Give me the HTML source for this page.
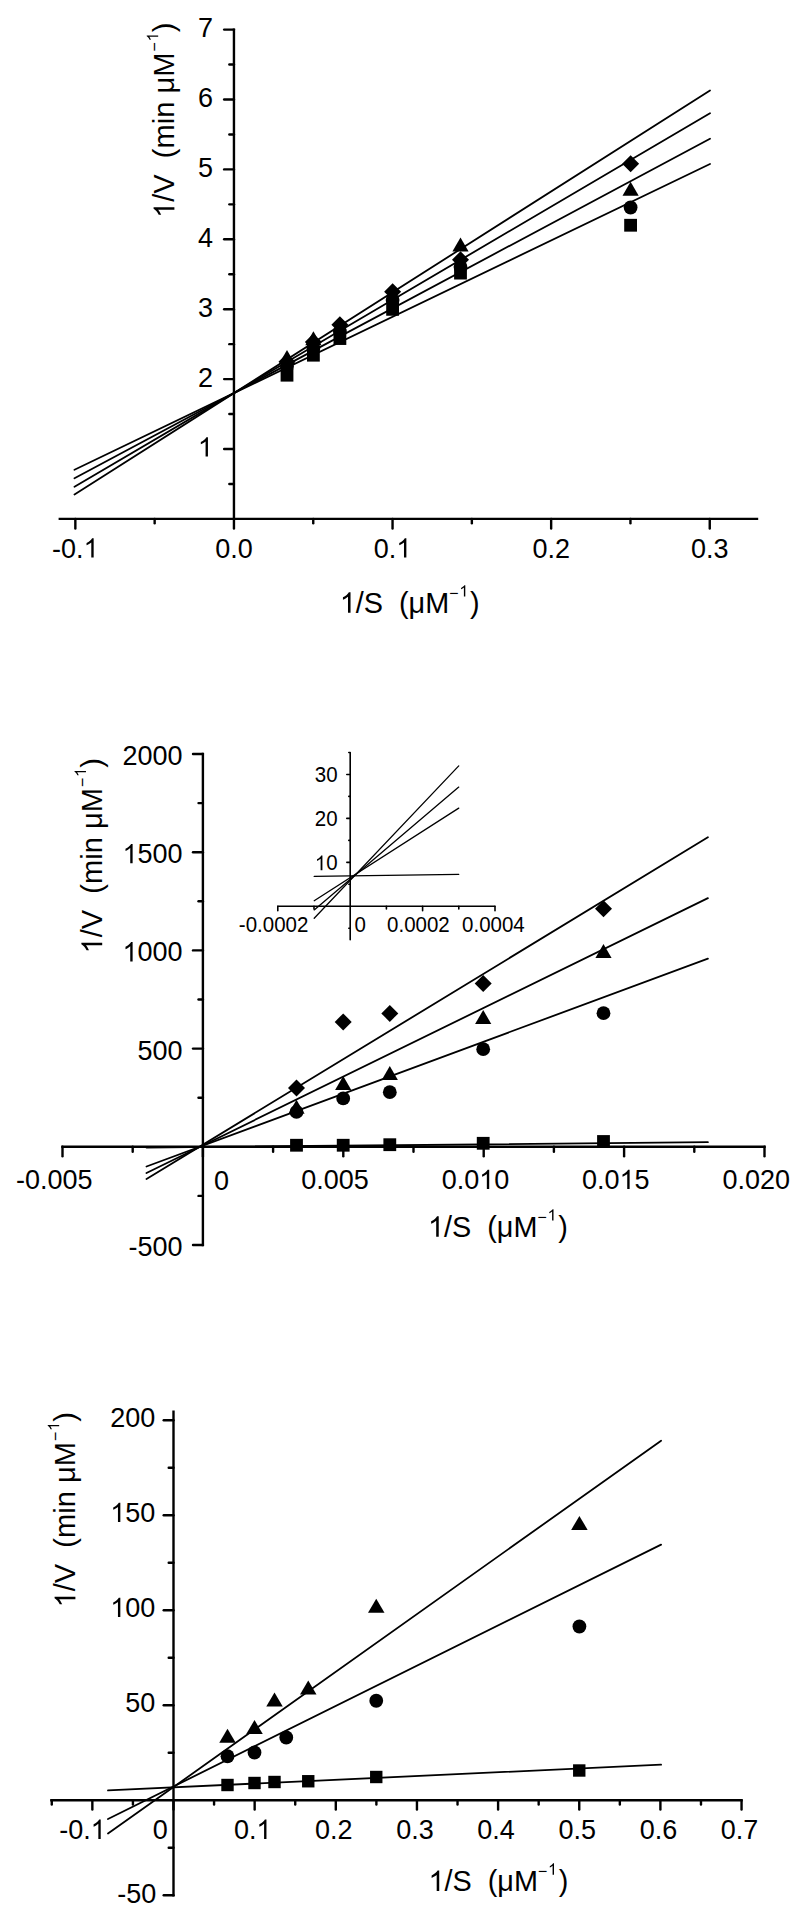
<!DOCTYPE html>
<html><head><meta charset="utf-8"><title>Lineweaver-Burk plots</title>
<style>html,body{margin:0;padding:0;background:#fff;}svg{display:block;}.o{fill-opacity:0;}</style>
</head><body>
<svg width="800" height="1915" viewBox="0 0 800 1915" font-family='"Liberation Sans", sans-serif' fill="#000">
<defs><path id="g1" d="M763 0L583 0L583 1102C540 1063 483 1023 413 983C343 944 280 914 223 894L223 1061C323 1106 411 1161 486 1225C561 1290 614 1352 645 1409L763 1409Z"/></defs>
<rect width="800" height="1915" fill="#fff"/>
<line x1="233.95" y1="29.60" x2="233.95" y2="518.90" stroke="#000" stroke-width="2.4" stroke-linecap="square"/>
<line x1="224.15" y1="449.00" x2="233.95" y2="449.00" stroke="#000" stroke-width="2.4" stroke-linecap="round"/>
<line x1="224.15" y1="379.10" x2="233.95" y2="379.10" stroke="#000" stroke-width="2.4" stroke-linecap="round"/>
<line x1="224.15" y1="309.20" x2="233.95" y2="309.20" stroke="#000" stroke-width="2.4" stroke-linecap="round"/>
<line x1="224.15" y1="239.30" x2="233.95" y2="239.30" stroke="#000" stroke-width="2.4" stroke-linecap="round"/>
<line x1="224.15" y1="169.40" x2="233.95" y2="169.40" stroke="#000" stroke-width="2.4" stroke-linecap="round"/>
<line x1="224.15" y1="99.50" x2="233.95" y2="99.50" stroke="#000" stroke-width="2.4" stroke-linecap="round"/>
<line x1="224.15" y1="29.60" x2="233.95" y2="29.60" stroke="#000" stroke-width="2.4" stroke-linecap="round"/>
<line x1="229.35" y1="483.95" x2="233.95" y2="483.95" stroke="#000" stroke-width="2.4" stroke-linecap="round"/>
<line x1="229.35" y1="414.05" x2="233.95" y2="414.05" stroke="#000" stroke-width="2.4" stroke-linecap="round"/>
<line x1="229.35" y1="344.15" x2="233.95" y2="344.15" stroke="#000" stroke-width="2.4" stroke-linecap="round"/>
<line x1="229.35" y1="274.25" x2="233.95" y2="274.25" stroke="#000" stroke-width="2.4" stroke-linecap="round"/>
<line x1="229.35" y1="204.35" x2="233.95" y2="204.35" stroke="#000" stroke-width="2.4" stroke-linecap="round"/>
<line x1="229.35" y1="134.45" x2="233.95" y2="134.45" stroke="#000" stroke-width="2.4" stroke-linecap="round"/>
<line x1="229.35" y1="64.55" x2="233.95" y2="64.55" stroke="#000" stroke-width="2.4" stroke-linecap="round"/>
<line x1="59.80" y1="518.90" x2="757.00" y2="518.90" stroke="#000" stroke-width="2.4" stroke-linecap="square"/>
<line x1="75.35" y1="518.90" x2="75.35" y2="528.50" stroke="#000" stroke-width="2.4" stroke-linecap="round"/>
<line x1="233.95" y1="518.90" x2="233.95" y2="528.50" stroke="#000" stroke-width="2.4" stroke-linecap="round"/>
<line x1="392.55" y1="518.90" x2="392.55" y2="528.50" stroke="#000" stroke-width="2.4" stroke-linecap="round"/>
<line x1="551.15" y1="518.90" x2="551.15" y2="528.50" stroke="#000" stroke-width="2.4" stroke-linecap="round"/>
<line x1="709.75" y1="518.90" x2="709.75" y2="528.50" stroke="#000" stroke-width="2.4" stroke-linecap="round"/>
<line x1="154.65" y1="518.90" x2="154.65" y2="523.30" stroke="#000" stroke-width="2.4" stroke-linecap="round"/>
<line x1="313.25" y1="518.90" x2="313.25" y2="523.30" stroke="#000" stroke-width="2.4" stroke-linecap="round"/>
<line x1="471.85" y1="518.90" x2="471.85" y2="523.30" stroke="#000" stroke-width="2.4" stroke-linecap="round"/>
<line x1="630.45" y1="518.90" x2="630.45" y2="523.30" stroke="#000" stroke-width="2.4" stroke-linecap="round"/>
<g transform="translate(212.90,456.50) scale(1,1.04)"><text id="tx0" x="0" y="0" font-size="27" text-anchor="end"><tspan class="o">1</tspan></text><use href="#g1" transform="translate(-15.01,0.00) scale(0.013184,-0.013184)"/></g>
<g transform="translate(212.90,386.60) scale(1,1.04)"><text id="tx1" x="0" y="0" font-size="27" text-anchor="end">2</text></g>
<g transform="translate(212.90,316.70) scale(1,1.04)"><text id="tx2" x="0" y="0" font-size="27" text-anchor="end">3</text></g>
<g transform="translate(212.90,246.80) scale(1,1.04)"><text id="tx3" x="0" y="0" font-size="27" text-anchor="end">4</text></g>
<g transform="translate(212.90,176.90) scale(1,1.04)"><text id="tx4" x="0" y="0" font-size="27" text-anchor="end">5</text></g>
<g transform="translate(212.90,107.00) scale(1,1.04)"><text id="tx5" x="0" y="0" font-size="27" text-anchor="end">6</text></g>
<g transform="translate(212.90,37.10) scale(1,1.04)"><text id="tx6" x="0" y="0" font-size="27" text-anchor="end">7</text></g>
<g transform="translate(75.35,557.60) scale(1,1.04)"><text id="tx7" x="0" y="0" font-size="27" text-anchor="middle">-0.<tspan class="o">1</tspan></text><use href="#g1" transform="translate(8.25,0.00) scale(0.013184,-0.013184)"/></g>
<g transform="translate(233.95,557.60) scale(1,1.04)"><text id="tx8" x="0" y="0" font-size="27" text-anchor="middle">0.0</text></g>
<g transform="translate(392.55,557.60) scale(1,1.04)"><text id="tx9" x="0" y="0" font-size="27" text-anchor="middle">0.<tspan class="o">1</tspan></text><use href="#g1" transform="translate(3.75,0.00) scale(0.013184,-0.013184)"/></g>
<g transform="translate(551.15,557.60) scale(1,1.04)"><text id="tx10" x="0" y="0" font-size="27" text-anchor="middle">0.2</text></g>
<g transform="translate(709.75,557.60) scale(1,1.04)"><text id="tx11" x="0" y="0" font-size="27" text-anchor="middle">0.3</text></g>
<g transform="translate(339.80,612.80) scale(1,1.04)"><text id="tx12" x="0" y="0" font-size="28.8" text-anchor="start"><tspan class="o">1</tspan>/S  (μM<tspan font-size="16" dx="0.0" dy="-13.70">−</tspan><tspan font-size="16" dx="0.8" dy="-1.9"><tspan class="o">1</tspan></tspan><tspan dx="1.8" dy="15.6">)</tspan></text><use href="#g1" transform="translate(0.00,0.00) scale(0.014063,-0.014063)"/><use href="#g1" transform="translate(119.54,-15.60) scale(0.007812,-0.007812)"/></g>
<g transform="translate(174.40,218.00) rotate(-90) scale(1,1.04)"><text id="tx13" x="0" y="0" font-size="29.1" text-anchor="start"><tspan class="o">1</tspan>/V  (min μM<tspan font-size="16" dx="1.0" dy="-13.70">−</tspan><tspan font-size="16" dx="0.8" dy="-1.9"><tspan class="o">1</tspan></tspan><tspan dx="0.2" dy="15.6">)</tspan></text><use href="#g1" transform="translate(0.00,0.00) scale(0.014209,-0.014209)"/><use href="#g1" transform="translate(176.60,-15.60) scale(0.007812,-0.007812)"/></g>
<line x1="74.50" y1="494.45" x2="710.00" y2="90.50" stroke="#000" stroke-width="1.8" stroke-linecap="round"/>
<line x1="74.50" y1="486.82" x2="710.00" y2="113.25" stroke="#000" stroke-width="1.8" stroke-linecap="round"/>
<line x1="74.50" y1="478.27" x2="710.00" y2="138.75" stroke="#000" stroke-width="1.8" stroke-linecap="round"/>
<line x1="74.50" y1="469.80" x2="710.00" y2="164.00" stroke="#000" stroke-width="1.8" stroke-linecap="round"/>
<rect x="280.60" y="368.80" width="12.8" height="12.8"/>
<rect x="307.00" y="348.80" width="12.8" height="12.8"/>
<rect x="333.50" y="332.15" width="12.8" height="12.8"/>
<rect x="386.20" y="302.95" width="12.8" height="12.8"/>
<rect x="454.10" y="266.70" width="12.8" height="12.8"/>
<rect x="624.20" y="218.85" width="12.8" height="12.8"/>
<circle cx="287.00" cy="366.50" r="6.9"/>
<circle cx="313.40" cy="348.00" r="6.9"/>
<circle cx="339.90" cy="331.50" r="6.9"/>
<circle cx="392.60" cy="300.00" r="6.9"/>
<circle cx="460.50" cy="267.00" r="6.9"/>
<circle cx="630.60" cy="207.50" r="6.9"/>
<polygon points="287.00,350.10 295.10,364.10 278.90,364.10"/>
<polygon points="313.40,331.25 321.50,345.25 305.30,345.25"/>
<polygon points="460.50,237.50 468.60,251.50 452.40,251.50"/>
<polygon points="630.60,181.75 638.70,195.75 622.50,195.75"/>
<polygon points="287.00,353.25 295.50,361.75 287.00,370.25 278.50,361.75"/>
<polygon points="313.40,333.60 321.90,342.10 313.40,350.60 304.90,342.10"/>
<polygon points="339.90,316.20 348.40,324.70 339.90,333.20 331.40,324.70"/>
<polygon points="392.60,283.20 401.10,291.70 392.60,300.20 384.10,291.70"/>
<polygon points="460.50,251.25 469.00,259.75 460.50,268.25 452.00,259.75"/>
<polygon points="630.60,155.25 639.10,163.75 630.60,172.25 622.10,163.75"/>
<line x1="202.90" y1="754.00" x2="202.90" y2="1245.00" stroke="#000" stroke-width="2.4" stroke-linecap="square"/>
<line x1="193.00" y1="754.00" x2="202.90" y2="754.00" stroke="#000" stroke-width="2.4" stroke-linecap="round"/>
<line x1="193.00" y1="852.20" x2="202.90" y2="852.20" stroke="#000" stroke-width="2.4" stroke-linecap="round"/>
<line x1="193.00" y1="950.40" x2="202.90" y2="950.40" stroke="#000" stroke-width="2.4" stroke-linecap="round"/>
<line x1="193.00" y1="1048.60" x2="202.90" y2="1048.60" stroke="#000" stroke-width="2.4" stroke-linecap="round"/>
<line x1="193.00" y1="1245.00" x2="202.90" y2="1245.00" stroke="#000" stroke-width="2.4" stroke-linecap="round"/>
<line x1="198.50" y1="803.10" x2="202.90" y2="803.10" stroke="#000" stroke-width="2.4" stroke-linecap="round"/>
<line x1="198.50" y1="901.30" x2="202.90" y2="901.30" stroke="#000" stroke-width="2.4" stroke-linecap="round"/>
<line x1="198.50" y1="999.50" x2="202.90" y2="999.50" stroke="#000" stroke-width="2.4" stroke-linecap="round"/>
<line x1="198.50" y1="1097.70" x2="202.90" y2="1097.70" stroke="#000" stroke-width="2.4" stroke-linecap="round"/>
<line x1="198.50" y1="1195.90" x2="202.90" y2="1195.90" stroke="#000" stroke-width="2.4" stroke-linecap="round"/>
<line x1="62.50" y1="1146.80" x2="764.50" y2="1146.80" stroke="#000" stroke-width="2.4" stroke-linecap="square"/>
<line x1="62.50" y1="1146.80" x2="62.50" y2="1156.30" stroke="#000" stroke-width="2.4" stroke-linecap="round"/>
<line x1="202.90" y1="1146.80" x2="202.90" y2="1156.30" stroke="#000" stroke-width="2.4" stroke-linecap="round"/>
<line x1="343.30" y1="1146.80" x2="343.30" y2="1156.30" stroke="#000" stroke-width="2.4" stroke-linecap="round"/>
<line x1="483.70" y1="1146.80" x2="483.70" y2="1156.30" stroke="#000" stroke-width="2.4" stroke-linecap="round"/>
<line x1="624.10" y1="1146.80" x2="624.10" y2="1156.30" stroke="#000" stroke-width="2.4" stroke-linecap="round"/>
<line x1="764.50" y1="1146.80" x2="764.50" y2="1156.30" stroke="#000" stroke-width="2.4" stroke-linecap="round"/>
<line x1="132.70" y1="1146.80" x2="132.70" y2="1151.80" stroke="#000" stroke-width="2.4" stroke-linecap="round"/>
<line x1="273.10" y1="1146.80" x2="273.10" y2="1151.80" stroke="#000" stroke-width="2.4" stroke-linecap="round"/>
<line x1="413.50" y1="1146.80" x2="413.50" y2="1151.80" stroke="#000" stroke-width="2.4" stroke-linecap="round"/>
<line x1="553.90" y1="1146.80" x2="553.90" y2="1151.80" stroke="#000" stroke-width="2.4" stroke-linecap="round"/>
<line x1="694.30" y1="1146.80" x2="694.30" y2="1151.80" stroke="#000" stroke-width="2.4" stroke-linecap="round"/>
<g transform="translate(182.60,765.00) scale(1,1.04)"><text id="tx14" x="0" y="0" font-size="27" text-anchor="end">2000</text></g>
<g transform="translate(182.60,863.20) scale(1,1.04)"><text id="tx15" x="0" y="0" font-size="27" text-anchor="end"><tspan class="o">1</tspan>500</text><use href="#g1" transform="translate(-60.04,0.00) scale(0.013184,-0.013184)"/></g>
<g transform="translate(182.60,961.40) scale(1,1.04)"><text id="tx16" x="0" y="0" font-size="27" text-anchor="end"><tspan class="o">1</tspan>000</text><use href="#g1" transform="translate(-60.04,0.00) scale(0.013184,-0.013184)"/></g>
<g transform="translate(182.60,1059.60) scale(1,1.04)"><text id="tx17" x="0" y="0" font-size="27" text-anchor="end">500</text></g>
<g transform="translate(182.60,1256.00) scale(1,1.04)"><text id="tx18" x="0" y="0" font-size="27" text-anchor="end">-500</text></g>
<g transform="translate(54.20,1189.00) scale(1,1.04)"><text id="tx19" x="0" y="0" font-size="27" text-anchor="middle">-0.005</text></g>
<g transform="translate(335.00,1189.00) scale(1,1.04)"><text id="tx20" x="0" y="0" font-size="27" text-anchor="middle">0.005</text></g>
<g transform="translate(475.40,1189.00) scale(1,1.04)"><text id="tx21" x="0" y="0" font-size="27" text-anchor="middle">0.0<tspan class="o">1</tspan>0</text><use href="#g1" transform="translate(3.75,0.00) scale(0.013184,-0.013184)"/></g>
<g transform="translate(615.80,1189.00) scale(1,1.04)"><text id="tx22" x="0" y="0" font-size="27" text-anchor="middle">0.0<tspan class="o">1</tspan>5</text><use href="#g1" transform="translate(3.75,0.00) scale(0.013184,-0.013184)"/></g>
<g transform="translate(756.20,1189.00) scale(1,1.04)"><text id="tx23" x="0" y="0" font-size="27" text-anchor="middle">0.020</text></g>
<g transform="translate(221.60,1189.50) scale(1,1.04)"><text id="tx24" x="0" y="0" font-size="27" text-anchor="middle">0</text></g>
<g transform="translate(428.00,1236.80) scale(1,1.04)"><text id="tx25" x="0" y="0" font-size="28.8" text-anchor="start"><tspan class="o">1</tspan>/S  (μM<tspan font-size="16" dx="0.0" dy="-13.70">−</tspan><tspan font-size="16" dx="0.8" dy="-1.9"><tspan class="o">1</tspan></tspan><tspan dx="1.8" dy="15.6">)</tspan></text><use href="#g1" transform="translate(0.00,0.00) scale(0.014063,-0.014063)"/><use href="#g1" transform="translate(119.54,-15.60) scale(0.007812,-0.007812)"/></g>
<g transform="translate(102.20,953.50) rotate(-90) scale(1,1.04)"><text id="tx26" x="0" y="0" font-size="29.1" text-anchor="start"><tspan class="o">1</tspan>/V  (min μM<tspan font-size="16" dx="1.0" dy="-13.70">−</tspan><tspan font-size="16" dx="0.8" dy="-1.9"><tspan class="o">1</tspan></tspan><tspan dx="0.2" dy="15.6">)</tspan></text><use href="#g1" transform="translate(0.00,0.00) scale(0.014209,-0.014209)"/><use href="#g1" transform="translate(176.60,-15.60) scale(0.007812,-0.007812)"/></g>
<line x1="146.50" y1="1179.00" x2="707.90" y2="837.20" stroke="#000" stroke-width="1.8" stroke-linecap="round"/>
<line x1="146.50" y1="1173.00" x2="707.90" y2="898.10" stroke="#000" stroke-width="1.8" stroke-linecap="round"/>
<line x1="146.50" y1="1166.50" x2="707.90" y2="958.65" stroke="#000" stroke-width="1.8" stroke-linecap="round"/>
<line x1="146.50" y1="1147.50" x2="707.90" y2="1142.20" stroke="#000" stroke-width="1.8" stroke-linecap="round"/>
<polygon points="296.50,1079.40 305.00,1087.90 296.50,1096.40 288.00,1087.90"/>
<polygon points="343.20,1013.40 351.70,1021.90 343.20,1030.40 334.70,1021.90"/>
<polygon points="389.80,1004.90 398.30,1013.40 389.80,1021.90 381.30,1013.40"/>
<polygon points="483.20,975.00 491.70,983.50 483.20,992.00 474.70,983.50"/>
<polygon points="603.50,900.30 612.00,908.80 603.50,917.30 595.00,908.80"/>
<polygon points="296.50,1099.70 304.60,1113.70 288.40,1113.70"/>
<polygon points="343.20,1075.90 351.30,1089.90 335.10,1089.90"/>
<polygon points="389.80,1066.00 397.90,1080.00 381.70,1080.00"/>
<polygon points="483.20,1010.00 491.30,1024.00 475.10,1024.00"/>
<polygon points="603.50,944.10 611.60,958.10 595.40,958.10"/>
<circle cx="296.50" cy="1111.90" r="6.9"/>
<circle cx="343.20" cy="1098.40" r="6.9"/>
<circle cx="389.80" cy="1092.20" r="6.9"/>
<circle cx="483.20" cy="1049.20" r="6.9"/>
<circle cx="603.50" cy="1013.20" r="6.9"/>
<rect x="290.10" y="1138.85" width="12.8" height="12.8"/>
<rect x="336.80" y="1138.85" width="12.8" height="12.8"/>
<rect x="383.40" y="1138.30" width="12.8" height="12.8"/>
<rect x="476.80" y="1136.90" width="12.8" height="12.8"/>
<rect x="597.10" y="1135.10" width="12.8" height="12.8"/>
<line x1="350.20" y1="753.10" x2="350.20" y2="939.70" stroke="#000" stroke-width="1.6" stroke-linecap="round"/>
<line x1="346.80" y1="774.45" x2="350.20" y2="774.45" stroke="#000" stroke-width="1.6" stroke-linecap="round"/>
<line x1="346.80" y1="818.40" x2="350.20" y2="818.40" stroke="#000" stroke-width="1.6" stroke-linecap="round"/>
<line x1="346.80" y1="862.35" x2="350.20" y2="862.35" stroke="#000" stroke-width="1.6" stroke-linecap="round"/>
<line x1="348.80" y1="752.47" x2="350.20" y2="752.47" stroke="#000" stroke-width="1.6" stroke-linecap="round"/>
<line x1="348.80" y1="796.42" x2="350.20" y2="796.42" stroke="#000" stroke-width="1.6" stroke-linecap="round"/>
<line x1="348.80" y1="840.38" x2="350.20" y2="840.38" stroke="#000" stroke-width="1.6" stroke-linecap="round"/>
<line x1="348.80" y1="884.32" x2="350.20" y2="884.32" stroke="#000" stroke-width="1.6" stroke-linecap="round"/>
<line x1="348.80" y1="928.27" x2="350.20" y2="928.27" stroke="#000" stroke-width="1.6" stroke-linecap="round"/>
<line x1="277.80" y1="906.30" x2="494.75" y2="906.30" stroke="#000" stroke-width="1.6" stroke-linecap="round"/>
<line x1="277.80" y1="906.30" x2="277.80" y2="910.70" stroke="#000" stroke-width="1.6" stroke-linecap="round"/>
<line x1="422.60" y1="906.30" x2="422.60" y2="910.70" stroke="#000" stroke-width="1.6" stroke-linecap="round"/>
<line x1="495.00" y1="906.30" x2="495.00" y2="910.70" stroke="#000" stroke-width="1.6" stroke-linecap="round"/>
<line x1="314.00" y1="906.30" x2="314.00" y2="908.90" stroke="#000" stroke-width="1.6" stroke-linecap="round"/>
<line x1="386.40" y1="906.30" x2="386.40" y2="908.90" stroke="#000" stroke-width="1.6" stroke-linecap="round"/>
<line x1="458.80" y1="906.30" x2="458.80" y2="908.90" stroke="#000" stroke-width="1.6" stroke-linecap="round"/>
<g transform="translate(337.60,782.35) scale(1,1.04)"><text id="tx27" x="0" y="0" font-size="20.5" text-anchor="end">30</text></g>
<g transform="translate(337.60,826.30) scale(1,1.04)"><text id="tx28" x="0" y="0" font-size="20.5" text-anchor="end">20</text></g>
<g transform="translate(337.60,870.25) scale(1,1.04)"><text id="tx29" x="0" y="0" font-size="20.5" text-anchor="end"><tspan class="o">1</tspan>0</text><use href="#g1" transform="translate(-22.82,0.00) scale(0.010010,-0.010010)"/></g>
<g transform="translate(273.60,932.40) scale(1,1.04)"><text id="tx30" x="0" y="0" font-size="20.5" text-anchor="middle">-0.0002</text></g>
<g transform="translate(360.10,932.40) scale(1,1.04)"><text id="tx31" x="0" y="0" font-size="20.5" text-anchor="middle">0</text></g>
<g transform="translate(418.40,932.40) scale(1,1.04)"><text id="tx32" x="0" y="0" font-size="20.5" text-anchor="middle">0.0002</text></g>
<g transform="translate(493.40,932.40) scale(1,1.04)"><text id="tx33" x="0" y="0" font-size="20.5" text-anchor="middle">0.0004</text></g>
<line x1="314.20" y1="918.20" x2="458.75" y2="765.90" stroke="#000" stroke-width="1.3" stroke-linecap="round"/>
<line x1="314.20" y1="909.90" x2="458.75" y2="787.10" stroke="#000" stroke-width="1.3" stroke-linecap="round"/>
<line x1="314.20" y1="900.70" x2="458.75" y2="808.10" stroke="#000" stroke-width="1.3" stroke-linecap="round"/>
<line x1="314.20" y1="876.40" x2="458.75" y2="874.30" stroke="#000" stroke-width="1.3" stroke-linecap="round"/>
<line x1="173.50" y1="1411.80" x2="173.50" y2="1895.20" stroke="#000" stroke-width="2.4" stroke-linecap="square"/>
<line x1="163.70" y1="1420.20" x2="173.50" y2="1420.20" stroke="#000" stroke-width="2.4" stroke-linecap="round"/>
<line x1="163.70" y1="1515.20" x2="173.50" y2="1515.20" stroke="#000" stroke-width="2.4" stroke-linecap="round"/>
<line x1="163.70" y1="1610.20" x2="173.50" y2="1610.20" stroke="#000" stroke-width="2.4" stroke-linecap="round"/>
<line x1="163.70" y1="1705.20" x2="173.50" y2="1705.20" stroke="#000" stroke-width="2.4" stroke-linecap="round"/>
<line x1="163.70" y1="1895.20" x2="173.50" y2="1895.20" stroke="#000" stroke-width="2.4" stroke-linecap="round"/>
<line x1="168.70" y1="1467.70" x2="173.50" y2="1467.70" stroke="#000" stroke-width="2.4" stroke-linecap="round"/>
<line x1="168.70" y1="1562.70" x2="173.50" y2="1562.70" stroke="#000" stroke-width="2.4" stroke-linecap="round"/>
<line x1="168.70" y1="1657.70" x2="173.50" y2="1657.70" stroke="#000" stroke-width="2.4" stroke-linecap="round"/>
<line x1="168.70" y1="1752.70" x2="173.50" y2="1752.70" stroke="#000" stroke-width="2.4" stroke-linecap="round"/>
<line x1="168.70" y1="1847.70" x2="173.50" y2="1847.70" stroke="#000" stroke-width="2.4" stroke-linecap="round"/>
<line x1="51.40" y1="1800.20" x2="741.50" y2="1800.20" stroke="#000" stroke-width="2.4" stroke-linecap="square"/>
<line x1="92.35" y1="1800.20" x2="92.35" y2="1809.50" stroke="#000" stroke-width="2.4" stroke-linecap="round"/>
<line x1="173.50" y1="1800.20" x2="173.50" y2="1809.50" stroke="#000" stroke-width="2.4" stroke-linecap="round"/>
<line x1="254.65" y1="1800.20" x2="254.65" y2="1809.50" stroke="#000" stroke-width="2.4" stroke-linecap="round"/>
<line x1="335.80" y1="1800.20" x2="335.80" y2="1809.50" stroke="#000" stroke-width="2.4" stroke-linecap="round"/>
<line x1="416.95" y1="1800.20" x2="416.95" y2="1809.50" stroke="#000" stroke-width="2.4" stroke-linecap="round"/>
<line x1="498.10" y1="1800.20" x2="498.10" y2="1809.50" stroke="#000" stroke-width="2.4" stroke-linecap="round"/>
<line x1="579.25" y1="1800.20" x2="579.25" y2="1809.50" stroke="#000" stroke-width="2.4" stroke-linecap="round"/>
<line x1="660.40" y1="1800.20" x2="660.40" y2="1809.50" stroke="#000" stroke-width="2.4" stroke-linecap="round"/>
<line x1="741.55" y1="1800.20" x2="741.55" y2="1809.50" stroke="#000" stroke-width="2.4" stroke-linecap="round"/>
<line x1="51.77" y1="1800.20" x2="51.77" y2="1804.50" stroke="#000" stroke-width="2.4" stroke-linecap="round"/>
<line x1="132.93" y1="1800.20" x2="132.93" y2="1804.50" stroke="#000" stroke-width="2.4" stroke-linecap="round"/>
<line x1="214.07" y1="1800.20" x2="214.07" y2="1804.50" stroke="#000" stroke-width="2.4" stroke-linecap="round"/>
<line x1="295.23" y1="1800.20" x2="295.23" y2="1804.50" stroke="#000" stroke-width="2.4" stroke-linecap="round"/>
<line x1="376.38" y1="1800.20" x2="376.38" y2="1804.50" stroke="#000" stroke-width="2.4" stroke-linecap="round"/>
<line x1="457.53" y1="1800.20" x2="457.53" y2="1804.50" stroke="#000" stroke-width="2.4" stroke-linecap="round"/>
<line x1="538.67" y1="1800.20" x2="538.67" y2="1804.50" stroke="#000" stroke-width="2.4" stroke-linecap="round"/>
<line x1="619.83" y1="1800.20" x2="619.83" y2="1804.50" stroke="#000" stroke-width="2.4" stroke-linecap="round"/>
<line x1="700.98" y1="1800.20" x2="700.98" y2="1804.50" stroke="#000" stroke-width="2.4" stroke-linecap="round"/>
<g transform="translate(155.30,1427.10) scale(1,1.04)"><text id="tx34" x="0" y="0" font-size="27" text-anchor="end">200</text></g>
<g transform="translate(155.30,1522.10) scale(1,1.04)"><text id="tx35" x="0" y="0" font-size="27" text-anchor="end"><tspan class="o">1</tspan>50</text><use href="#g1" transform="translate(-45.03,0.00) scale(0.013184,-0.013184)"/></g>
<g transform="translate(155.30,1617.10) scale(1,1.04)"><text id="tx36" x="0" y="0" font-size="27" text-anchor="end"><tspan class="o">1</tspan>00</text><use href="#g1" transform="translate(-45.03,0.00) scale(0.013184,-0.013184)"/></g>
<g transform="translate(155.30,1712.10) scale(1,1.04)"><text id="tx37" x="0" y="0" font-size="27" text-anchor="end">50</text></g>
<g transform="translate(156.20,1902.60) scale(1,1.04)"><text id="tx38" x="0" y="0" font-size="27" text-anchor="end">-50</text></g>
<g transform="translate(252.65,1838.90) scale(1,1.04)"><text id="tx39" x="0" y="0" font-size="27" text-anchor="middle">0.<tspan class="o">1</tspan></text><use href="#g1" transform="translate(3.75,0.00) scale(0.013184,-0.013184)"/></g>
<g transform="translate(333.80,1838.90) scale(1,1.04)"><text id="tx40" x="0" y="0" font-size="27" text-anchor="middle">0.2</text></g>
<g transform="translate(414.95,1838.90) scale(1,1.04)"><text id="tx41" x="0" y="0" font-size="27" text-anchor="middle">0.3</text></g>
<g transform="translate(496.10,1838.90) scale(1,1.04)"><text id="tx42" x="0" y="0" font-size="27" text-anchor="middle">0.4</text></g>
<g transform="translate(577.25,1838.90) scale(1,1.04)"><text id="tx43" x="0" y="0" font-size="27" text-anchor="middle">0.5</text></g>
<g transform="translate(658.40,1838.90) scale(1,1.04)"><text id="tx44" x="0" y="0" font-size="27" text-anchor="middle">0.6</text></g>
<g transform="translate(739.55,1838.90) scale(1,1.04)"><text id="tx45" x="0" y="0" font-size="27" text-anchor="middle">0.7</text></g>
<g transform="translate(82.40,1838.90) scale(1,1.04)"><text id="tx46" x="0" y="0" font-size="27" text-anchor="middle">-0.<tspan class="o">1</tspan></text><use href="#g1" transform="translate(8.25,0.00) scale(0.013184,-0.013184)"/></g>
<g transform="translate(160.20,1838.90) scale(1,1.04)"><text id="tx47" x="0" y="0" font-size="27" text-anchor="middle">0</text></g>
<g transform="translate(428.50,1891.00) scale(1,1.04)"><text id="tx48" x="0" y="0" font-size="28.8" text-anchor="start"><tspan class="o">1</tspan>/S  (μM<tspan font-size="16" dx="0.0" dy="-13.70">−</tspan><tspan font-size="16" dx="0.8" dy="-1.9"><tspan class="o">1</tspan></tspan><tspan dx="1.8" dy="15.6">)</tspan></text><use href="#g1" transform="translate(0.00,0.00) scale(0.014063,-0.014063)"/><use href="#g1" transform="translate(119.54,-15.60) scale(0.007812,-0.007812)"/></g>
<g transform="translate(75.40,1607.50) rotate(-90) scale(1,1.04)"><text id="tx49" x="0" y="0" font-size="29.1" text-anchor="start"><tspan class="o">1</tspan>/V  (min μM<tspan font-size="16" dx="1.0" dy="-13.70">−</tspan><tspan font-size="16" dx="0.8" dy="-1.9"><tspan class="o">1</tspan></tspan><tspan dx="0.2" dy="15.6">)</tspan></text><use href="#g1" transform="translate(0.00,0.00) scale(0.014209,-0.014209)"/><use href="#g1" transform="translate(176.60,-15.60) scale(0.007812,-0.007812)"/></g>
<line x1="108.00" y1="1833.60" x2="661.10" y2="1440.65" stroke="#000" stroke-width="1.8" stroke-linecap="round"/>
<line x1="108.00" y1="1819.00" x2="661.10" y2="1544.60" stroke="#000" stroke-width="1.8" stroke-linecap="round"/>
<line x1="108.00" y1="1790.40" x2="661.10" y2="1764.70" stroke="#000" stroke-width="1.8" stroke-linecap="round"/>
<polygon points="227.50,1728.75 235.75,1742.75 219.25,1742.75"/>
<polygon points="254.50,1720.00 262.75,1734.00 246.25,1734.00"/>
<polygon points="274.50,1692.50 282.75,1706.50 266.25,1706.50"/>
<polygon points="308.25,1680.50 316.50,1694.50 300.00,1694.50"/>
<polygon points="376.25,1598.75 384.50,1612.75 368.00,1612.75"/>
<polygon points="579.40,1515.90 587.65,1529.90 571.15,1529.90"/>
<circle cx="227.50" cy="1756.25" r="6.9"/>
<circle cx="254.50" cy="1752.50" r="6.9"/>
<circle cx="286.25" cy="1737.50" r="6.9"/>
<circle cx="376.25" cy="1700.75" r="6.9"/>
<circle cx="579.40" cy="1626.50" r="6.9"/>
<rect x="221.30" y="1778.80" width="12.4" height="12.4"/>
<rect x="248.30" y="1776.80" width="12.4" height="12.4"/>
<rect x="268.30" y="1775.80" width="12.4" height="12.4"/>
<rect x="302.05" y="1775.05" width="12.4" height="12.4"/>
<rect x="370.05" y="1770.80" width="12.4" height="12.4"/>
<rect x="573.05" y="1764.30" width="12.4" height="12.4"/>
</svg>
</body></html>
